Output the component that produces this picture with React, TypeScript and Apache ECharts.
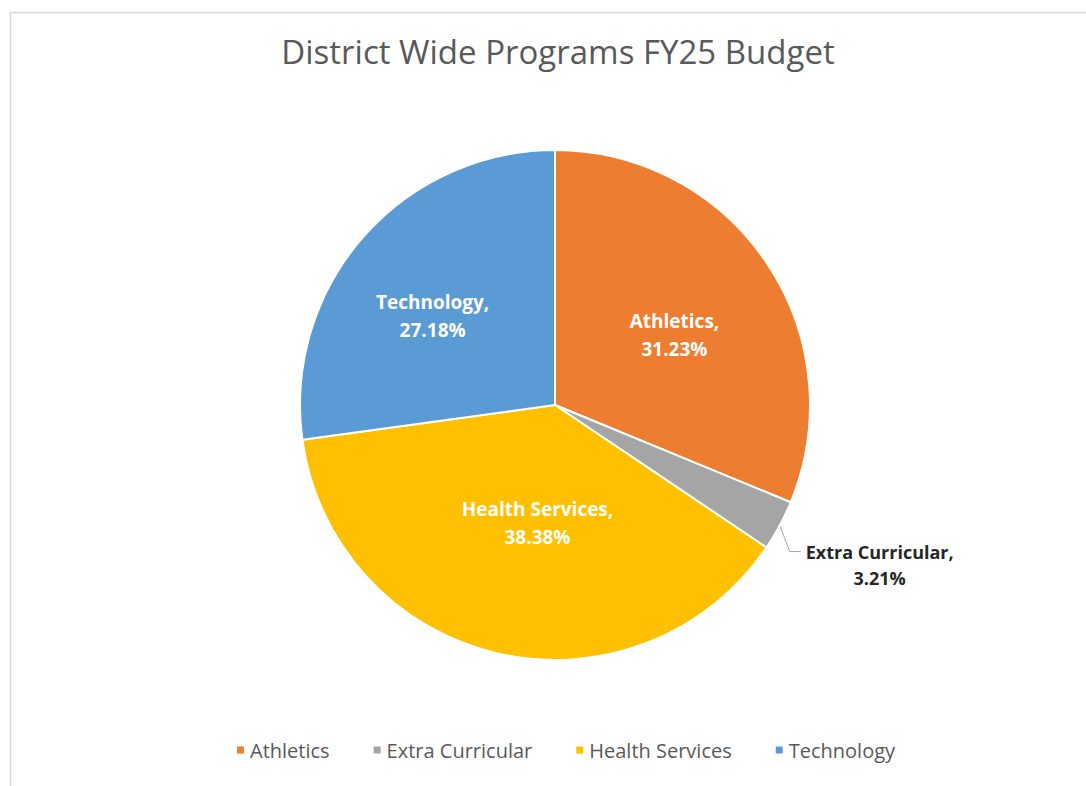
import React, { useEffect, useRef } from "react";
import * as echarts from "echarts";

const categories = ["Athletics", "Extra Curricular", "Health Services", "Technology"];
const shares = [31.23, 3.21, 38.38, 27.18];
const colors = ["#ED7D31", "#A5A5A5", "#FFC000", "#5B9BD5"];
const titleText = "District Wide Programs FY25 Budget";
const outsideLabels = ["Extra Curricular"];
const labelNudge: Record<number, [number, number]> = { 0: [11, 3], 2: [12, -9], 3: [-24, -3] };

export default function App() {
  const ref = useRef<HTMLDivElement>(null);
  useEffect(() => {
    if (!ref.current) return;
    const chart = echarts.init(ref.current, null, { renderer: "svg" });
    const font = "'Open Sans', Lato, sans-serif";
    chart.setOption({
      animation: false,
      backgroundColor: "#ffffff",
      title: {
        text: titleText,
        left: 553,
        textAlign: "center",
        top: 30,
        textStyle: { fontFamily: font, fontSize: 33, fontWeight: "normal", color: "#595959" },
      },
      graphic: [
        {
          type: "rect",
          left: 8,
          top: 10,
          shape: { width: 1200, height: 900 },
          style: { fill: "none", stroke: "#d9d9d9", lineWidth: 1.5 },
          silent: true,
        },
      ],
      legend: {
        bottom: 21,
        left: 230,
        icon: "rect",
        itemWidth: 9,
        itemHeight: 9,
        itemGap: 42,
        data: categories,
        textStyle: { fontFamily: font, fontSize: 20, color: "#595959" },
      },
      series: [
        {
          type: "pie",
          center: [555, 405],
          radius: 255,
          startAngle: 90,
          clockwise: true,
          itemStyle: { borderColor: "#ffffff", borderWidth: 2 },
          label: {
            show: true,
            position: "inside",
            formatter: (p: any) => `${p.name},\n${p.value.toFixed(2)}%`,
            color: "#ffffff",
            fontFamily: font,
            fontWeight: "bold",
            fontSize: 19,
            lineHeight: 28,
            align: "center",
          },
          labelLine: { show: true, lineStyle: { color: "#a6a6a6", width: 1 } },
          labelLayout: (params: any) => {
            const i = params.dataIndex;
            if (outsideLabels.includes(categories[i]) && params.labelLinePoints) {
              const p0 = params.labelLinePoints[0];
              const p1 = [p0[0] + 10, p0[1] + 26];
              const p2 = [p1[0] + 11, p1[1]];
              return {
                x: p2[0] + 5 + params.labelRect.width / 2,
                y: p2[1] + 13,
                align: "center",
                verticalAlign: "middle",
                labelLinePoints: [p0, p1, p2],
              };
            }
            const n = labelNudge[i];
            return n ? { dx: n[0], dy: n[1] } : {};
          },
          data: categories.map((name, i) => {
            const outside = outsideLabels.includes(name);
            return {
              name,
              value: shares[i],
              itemStyle: { color: colors[i] },
              label: outside
                ? { position: "outside", color: "#262626", fontWeight: "bold", fontSize: 18, lineHeight: 26 }
                : undefined,
              labelLine: outside ? { show: true, length: 20, length2: 10 } : { show: false },
            };
          }),
        },
      ],
    });
    return () => chart.dispose();
  }, []);
  return (
    <div
      ref={ref}
      style={{ position: "fixed", left: 0, top: 0, width: 1086, height: 786 }}
    />
  );
}
